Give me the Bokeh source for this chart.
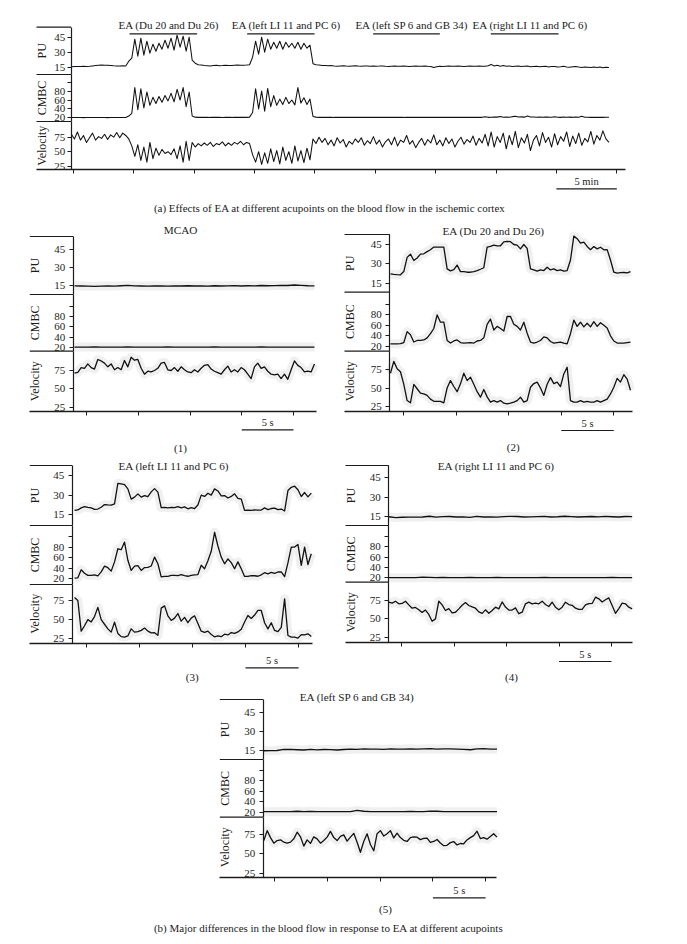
import math
from bokeh.plotting import figure
from bokeh.models import Range1d, LinearAxis, FixedTicker
from bokeh.embed import file_html
from bokeh.resources import INLINE
from bokeh.core.properties import value

# ======================= DATA =======================
# (a) whole experiment, minutes; samples every 0.25 min from -0.15 min
A_T_START, A_DT = -0.15, 0.25
pu_a = [15.5,15.8,15.6,15.7,16.0,15.8,16.0,16.3,16.6,16.9,17.1,16.9,17.0,16.8,16.5,16.3,16.2,16.4,
        16.2,
        21,24,43,26,44,27,41,29,38,31,39,33,42,34,44,32,47,35,46,31,45,
        22,19,17.5,17.2,16.8,
        16.5,16.2,16.6,16.9,16.5,16.7,17.0,16.8,16.6,16.9,17.1,17.0,16.9,17.1,
        17.5,
        25,41,28,45,30,43,33,40,34,41,33,40,35,39,34,40,33,39,34,37,
        18.5,17.5,17.2,16.8,16.6,
        16.4,16.6,16.2,16.0,16.3,16.5,16.1,15.9,16.2,16.4,
        16.1,16.0,16.3,16.1,15.9,16.2,16.0,16.1,16.3,16.0,
        15.8,16.0,16.2,16.0,15.9,16.1,16.0,15.7,16.0,16.1,
        15.9,16.0,16.2,15.9,15.8,14.6,15.5,16.0,15.8,16.0,
        16.1,15.9,16.0,16.2,16.0,15.8,16.0,16.1,15.9,16.0,
        16.2,16.0,15.9,16.5,17.8,16.2,17.0,16.0,16.6,15.9,
        16.3,15.8,16.0,16.2,15.6,15.9,16.1,15.5,15.8,16.0,
        15.4,15.7,15.9,15.3,15.6,15.8,15.2,15.5,15.9,15.3,
        15.0,15.4,15.6,15.1,14.8,15.2,15.0,14.6,15.1,14.8,
        15.2,14.5,15.0,14.7]
cmbc_a = [20.5,20.5,20.6,20.5,20.4,20.5,20.5,20.6,20.5,20.7,20.5,20.5,20.4,20.5,20.6,20.5,20.5,20.5,
          20.5,
          24,30,88,38,85,42,78,48,66,52,68,55,70,58,75,56,84,60,88,45,78,
          24,21.5,21,21.2,21,
          21.2,20.9,21.0,21.3,21.0,20.8,21.1,21.0,20.9,21.2,21.0,20.9,21.1,21.0,
          21.5,
          32,85,40,80,35,86,45,70,48,62,50,66,52,60,49,88,53,65,50,62,
          23,21.5,21,21.2,21,
          21.0,21.2,20.9,21.0,21.1,20.9,21.0,21.2,21.0,20.9,
          21.0,21.1,21.0,20.9,21.0,21.2,21.0,21.0,20.9,21.1,
          21.0,20.9,21.0,21.1,21.0,20.9,21.3,21.0,21.0,20.9,
          21.0,21.1,21.0,20.9,21.0,21.2,21.0,20.9,21.0,21.1,
          21.0,20.9,21.0,21.1,21.0,21.0,20.9,21.1,21.0,21.0,
          21.1,21.0,22.5,21.0,21.3,22.0,21.5,22.8,21.2,21.6,
          21.4,22.6,23.5,21.8,22.1,21.5,23.8,21.6,22.0,21.4,
          21.8,21.3,22.0,21.5,21.2,22.3,21.4,21.0,21.6,21.2,
          21.5,21.0,22.0,21.3,23.5,21.4,21.1,21.0,21.3,21.0,
          21.2,21.0,21.4,21.1]
vel_a = [80,72,84,70,78,66,74,82,70,76,73,80,71,79,75,83,74,82,
         78,
         72,60,42,62,35,58,32,66,38,56,44,54,47,50,45,55,38,60,32,68,35,
         66,58,64,60,65,
         61,66,59,64,62,67,60,65,61,66,63,68,62,66,
         64,
         45,32,50,28,48,30,55,33,52,29,58,35,50,30,60,34,52,31,56,36,
         72,64,75,66,73,
         62,70,60,74,65,71,58,68,63,72,
         66,74,61,69,64,76,63,70,58,67,
         72,62,75,60,70,66,78,63,69,57,
         66,73,61,71,65,79,62,70,60,74,
         64,72,58,68,75,63,71,66,77,61,
         73,65,80,60,84,58,76,66,82,55,
         78,62,85,57,74,65,80,52,70,78,
         60,83,66,75,58,81,62,76,68,84,
         59,77,64,82,61,73,67,85,63,78,
         70,86,72,66]
a_ticks = [0, 5, 10, 15, 20, 25, 30, 35, 40, 45]           # minutes
ea_labels = ["EA (Du 20 and Du 26)", "EA (left LI 11 and PC 6)",
             "EA (left SP 6 and GB 34)", "EA (right LI 11 and PC 6)"]
ea_start = [4.66, 14.40, 24.83, 34.57]                      # minutes
ea_end = [10.26, 19.98, 30.35, 40.18]
a_scale = [40, 45]                                          # 5 min bar

# (b) seconds
b_ticks = [0, 5, 10, 15, 20]
b_scale = [15, 20]                                          # 5 s bar

# (1) MCAO
t1_start, t1_dt = -1.16, 0.322
pu_1 = [14.7,14.6,14.4,14.3,14.5,14.6,14.5,14.8,15.1,14.7,14.6,14.5,14.7,14.6,14.5,14.7,14.6,14.8,14.6,
        14.7,14.5,14.8,14.6,14.7,14.9,14.6,14.8,14.7,15.0,14.8,14.9,15.1,15.0,15.4,15.1,14.8,14.7]
cmbc_1 = [20.3,20.3,20.3,20.4,20.3,20.3,20.3,20.3,20.4,20.3,20.3,20.3,20.3,20.3,20.4,20.3,20.3,20.3,20.3,
          20.3,20.3,20.4,20.3,20.3,20.3,20.3,20.3,20.3,20.4,20.3,20.3,20.3,20.3,20.3,20.3,20.3,20.3]
vel_1 = [71.4,72.5,79,78,84,79,77,90,88,85,
         80,84,76,79,76,88.6,80,93,89,90,
         78,70,74,73,75,78,85,86,76,75,
         79,74,80,76,73,72,76,73,78,82,
         83,77,74,72,70,76,81,73,76,73,
         79,76,70,64,80,85,78,80,74,70,
         69,70,64,70,63,76,88,82,79,73,
         74,73,84]
# (2) EA (Du 20 and Du 26)
t2_start, t2_dt = -1.27, 0.3175
pu_2 = [22.2,21.8,21.6,21.5,24,35,37.5,32.6,34.5,37.5,
        37.8,39.5,40.9,43,42.9,42.9,42.9,26.1,24.6,25.5,
        29,24,24,23.5,23.5,24,24.8,25.8,27,43,
        43.5,44.5,44,44,47,47.5,47.2,45,44.5,41.6,
        45,42,26.1,25.3,24.3,25.3,24.8,27.4,25.3,26.1,
        24.8,25.3,24.3,24.8,33,51.5,49.5,46,46.8,43.5,
        41,43.4,41.6,42.9,40.9,41,33,23.5,22.8,23.2,
        23.3,23,24]
cmbc_2 = [24.5,24.5,24.5,24.8,27,48,42,28,31,31,
          32,36,44,54,80,66,66,31,26,30,
          32,27,26,26.5,27,26,30,31,36,62,
          72,51,58,54,49,77,77,62,58,51,
          66,45,28,26,28,31,38,36,29,26,
          27,28,26,24.5,44,70,58,66,57,64,
          57,67,58,65,60,55,40,30,26,26,
          26,27,28]
vel_2 = [70,86,76,72,55,33,30,55,49,43,
         42,40,35,32,32,32,30,50,60,52,
         45,55.6,70,60,64.6,55,45,37.6,48,38,
         31,33,31,33,29.5,28.6,29.5,31,33,37.6,
         31,33,51,56,58,50,40,55,64,56,
         58,52,69,78,33,31,31,33,31,32,
         31,31,33,31,33,35,42,51,63,58,
         68,62,47]
# (3) EA (left LI 11 and PC 6)
t3_start, t3_dt = -1.10, 0.314
pu_3 = [18.3,18.7,20.3,21.2,20.6,20.3,19.2,19.4,20.8,22.8,
        22.5,22.4,23.4,39,38.6,38,34.8,27,28.5,31,
        28.5,29.7,28.8,32.5,35,32.3,20.5,20.6,20.3,20.7,
        20.4,21.2,20.3,21,19.6,20.5,19.8,22.5,30,29,
        31.5,30,34.8,33.2,29.5,29.7,27.8,29,31,27.5,
        27,18.4,18.6,18.4,18.8,18.5,18.6,20.3,19,19.8,
        20.1,18.9,19.4,17.9,33.5,36,36.8,34.1,29,32,
        28.7,31.5]
cmbc_3 = [21.3,21.9,37,30.5,26.5,26.5,27.5,25.6,33,44,
          41,34.5,52,76.8,75,89.5,55,35.8,43.8,45,
          35.8,41.3,41.8,44.2,61,48.4,23.6,24.4,24.6,26.3,
          26.3,26,27.8,26,24.8,26.6,27.5,28,45.6,39,
          54,72,108,82,61,48.4,57.5,50.5,39,52,
          39,24.4,24.6,25.9,25.8,24.8,27.6,31.5,29.5,32,
          30.2,32.9,33,24.1,50,80,80,85,45.3,80,
          47,67.4]
vel_3 = [79,75,35,42,50,47,54,66,50,44,
         38,33.7,46.7,32,27.8,27.2,28.7,38,33.7,34.3,
         36,39,35,32.7,33,29.6,65,68,55,49,
         52,58,48,53,46,52,55,45,35,33.5,
         35,30.6,27.6,28.9,27.8,31,30,33.2,32,34,
         37.5,47,55.4,51.6,56,62,62,46,38,46,
         35.9,34.3,40,77.2,29.3,27.2,27.2,25.9,30.5,30,
         31.5,28]
# (4) EA (right LI 11 and PC 6)
t4_start, t4_dt = -1.21, 0.3175
pu_4 = [14.8,14.2,14.4,14.5,14.5,14.6,15.2,14.5,14.9,15.0,14.6,14.7,14.4,15.1,14.6,14.7,14.5,14.9,15.1,
        15.0,14.6,14.7,14.9,15.1,14.6,14.8,15.2,14.9,14.6,14.8,15.0,14.7,15.1,14.8,14.6,15.0,14.9]
cmbc_4 = [20.2,20.2,20.3,20.2,20.2,21.2,20.8,20.3,20.9,20.5,20.3,20.3,20.8,20.3,20.2,20.3,20.9,20.3,20.2,
          20.3,20.2,20.3,20.2,20.6,20.3,20.2,20.3,20.2,20.3,20.2,20.3,20.2,20.3,20.8,20.3,20.2,20.3]
vel_4 = [72.7,71.4,74,70.5,71,74,69,64.5,65.5,62.5,
         58.8,62,56,46.8,50,74,69,61.4,64,58,
         59,63.6,68.6,72.2,68.2,66.2,64.5,59.5,57.5,62.3,
         57.7,61.4,65.9,63.6,73,66,62,62,65,57,
         59.1,70.5,72.7,70.5,71.4,70.5,74.1,69.5,66.8,72.7,
         65.9,62.3,65.9,72.7,69.5,68.5,64.5,63,63,69,
         70.8,71,79.5,77.3,73,76,78.5,68.2,57.5,64,
         71.4,70.5,65.9,63.6]
# (5) EA (left SP 6 and GB 34)
t5_start, t5_dt = -1.04, 0.316
pu_5 = [14.8,14.9,15.0,15.8,15.9,15.6,15.4,15.9,15.5,15.8,15.7,15.4,15.8,16.0,15.9,16.2,16.0,16.1,
        15.9,16.2,16.0,16.1,16.3,16.0,16.2,16.4,16.1,16.3,16.2,16.0,15.9,15.6,16.2,16.4,16.1,16.0]
cmbc_5 = [21.0,21.0,21.1,21.2,21.0,21.8,21.1,21.6,21.2,21.0,21.1,21.0,21.1,21.1,23.5,21.8,21.2,21.1,
          21.0,21.1,21.2,21.0,21.6,21.1,21.0,22.0,21.8,21.2,21.0,21.1,21.0,21.1,21.0,21.1,21.0,21.1]
vel_5 = [67.2,80,71,63.8,67.2,68.1,65.1,63.8,65.1,69.4,
         78,72,60,68.1,63.5,72,69.4,63.8,67.2,71.6,
         79,71,67.2,72.6,74.5,66.5,71.6,76.5,65,52,
         66,75.9,62,54,76,80,73,75.9,80,70.5,
         76.7,71,67.5,66,70.9,71.8,71.5,68.4,70,70.3,
         64.8,66,68.5,64,60.5,61,64.5,65.9,61.5,63.4,
         63,68,71,73.5,79.3,69.8,71,69,72.4,76,
         71.6]

strip_labels = ["PU", "CMBC", "Velocity"]
pu_ticks = [15, 30, 45]
cmbc_ticks = [20, 40, 60, 80, 100]
vel_ticks = [25, 50, 75]

panel_titles = ["MCAO", "EA (Du 20 and Du 26)", "EA (left LI 11 and PC 6)",
                "EA (right LI 11 and PC 6)", "EA (left SP 6 and GB 34)"]
panel_tags = ["(1)", "(2)", "(3)", "(4)", "(5)"]
caption_a = "(a)  Effects of EA at different acupoints on the blood flow in the ischemic cortex"
caption_b = "(b)  Major differences in the blood flow in response to EA at different acupoints"

# ======================= LAYOUT (page pixels) =======================
PAGE_W, PAGE_H, MARGIN = 687, 944, 0
W, H = PAGE_W - 2 * MARGIN, PAGE_H - 2 * MARGIN
X0, X1 = MARGIN, MARGIN + W
Y0, Y1 = MARGIN, MARGIN + H
FONT = "Liberation Serif"
INK = "#1c1c1c"
TICK_PX = 11
LABEL_PX = 12

GEOM = {
    "a": dict(left=36, axis=70.7, right=625.3, ys=[26.7, 74, 121, 169.3],
              pu=(45, 36.7, 15, 66.7), cm=(100, 81.7, 20, 117.3), ve=(75, 136.7, 25, 165.7),
              t0=72.7, ppu=12.08, standoff=2),
    "1": dict(left=29.3, axis=72.7, right=316, ys=[236, 294, 350.7, 410.7],
              pu=(45, 249, 15, 285), cm=(100, 306, 20, 346.7), ve=(75, 370, 25, 406.7),
              t0=86, ppu=10.35, standoff=4, title=(180, 229.6), tag=(180, 447.7), bar=(429.3, 422)),
    "2": dict(left=344, axis=389.3, right=631.7, ys=[234, 291.7, 350.7, 410.7],
              pu=(45, 244, 15, 282.7), cm=(100, 304, 20, 345.7), ve=(75, 369, 25, 406),
              t0=403.3, ppu=10.5, standoff=4, title=(493, 230.5), tag=(512.7, 446.7), bar=(430, 422.7)),
    "3": dict(left=29.3, axis=71.7, right=311.7, ys=[465, 525, 584, 642.7],
              pu=(45, 475, 15, 514.3), cm=(100, 536, 20, 578.3), ve=(75, 600, 25, 638.3),
              t0=85.7, ppu=10.62, standoff=4, title=(173.3, 465.5), tag=(191.7, 676), bar=(667.3, 660)),
    "4": dict(left=345, axis=388.3, right=631.7, ys=[465, 525, 581.7, 641.7],
              pu=(45, 477.3, 15, 516), cm=(100, 536, 20, 577.3), ve=(75, 600, 25, 636.7),
              t0=401, ppu=10.5, standoff=4, title=(495.7, 465.8), tag=(511, 676), bar=(661, 654)),
    "5": dict(left=219.3, axis=262.7, right=496, ys=[699, 759, 816.7, 876.7],
              pu=(45, 711.7, 15, 750), cm=(100, 770, 20, 811.7), ve=(75, 834, 25, 872.7),
              t0=274.3, ppu=10.54, standoff=4, title=(356.7, 696), tag=(385, 908), bar=(897.3, 890)),
}

p = figure(width=W, height=H, x_range=Range1d(X0, X1), y_range=Range1d(Y1, Y0),
           x_axis_type=None, y_axis_type=None, toolbar_location=None,
           output_backend="svg", min_border=0, outline_line_color=None, title=None)
p.background_fill_color = "white"
p.border_fill_color = "white"


def txt(x, y, s, size, angle=0.0, xr="default", color=INK):
    p.text(x=[x], y=[y], text=[s], angle=angle, text_font=value(FONT),
           text_font_size=value(f"{size}px"), text_color=color, text_align="center",
           text_baseline="middle", x_range_name=xr)


def value_range(v1, y1, v2, y2):
    k = (y2 - y1) / (v2 - v1)
    return Range1d(start=v1 + (Y1 - y1) / k, end=v1 + (Y0 - y1) / k), k


def panel(name, g, series, t_starts, dts, xticks, halo, lw):
    tname = name + "_t"
    p.extra_x_ranges[tname] = Range1d((X0 - g["t0"]) / g["ppu"], (X1 - g["t0"]) / g["ppu"])
    ys = g["ys"]
    keys = ["pu", "cm", "ve"]
    tick_sets = [pu_ticks, cmbc_ticks, vel_ticks]
    for j in range(3):
        v1, y1, v2, y2 = g[keys[j]]
        rng, k = value_range(v1, y1, v2, y2)
        rn = name + "_" + keys[j]
        p.extra_y_ranges[rn] = rng
        vb_top = v1 + (ys[j] - y1) / k
        vb_bot = v1 + (ys[j + 1] - y1) / k
        ax = LinearAxis(y_range_name=rn, fixed_location=g["axis"], bounds=(vb_bot, vb_top),
                        ticker=FixedTicker(ticks=tick_sets[j]))
        ax.major_label_overrides = {100: ""}
        ax.axis_line_color = INK
        ax.axis_line_width = 1.2
        ax.major_tick_line_color = INK
        ax.major_tick_in = 0
        ax.major_tick_out = 4
        ax.minor_tick_line_color = None
        ax.major_label_standoff = g["standoff"]
        ax.major_label_text_font = FONT
        ax.major_label_text_font_size = f"{TICK_PX}px"
        ax.major_label_text_color = INK
        p.add_layout(ax, "left")
        # separator left of the axis and rotated strip label
        p.segment(x0=[g["left"]], x1=[g["axis"]], y0=[ys[j]], y1=[ys[j]], line_color=INK, line_width=1.2)
        txt(g["left"] + 5.5, (ys[j] + ys[j + 1]) / 2, strip_labels[j], LABEL_PX, angle=math.pi / 2)
        vals = series[j]
        ts = [t_starts[j] + i * dts[j] for i in range(len(vals))]
        if halo:
            p.line(x=ts, y=vals, x_range_name=tname, y_range_name=rn, line_color="#e2e2e2",
                   line_width=9, line_alpha=0.5, line_join="round")
        p.line(x=ts, y=vals, x_range_name=tname, y_range_name=rn, line_color="#111111",
               line_width=lw, line_join="round")
    xa = LinearAxis(x_range_name=tname, fixed_location=ys[3],
                    bounds=((g["left"] - g["t0"]) / g["ppu"], (g["right"] - g["t0"]) / g["ppu"]),
                    ticker=FixedTicker(ticks=xticks))
    xa.major_label_overrides = {t: "" for t in xticks}
    xa.axis_line_color = INK
    xa.axis_line_width = 1.3
    xa.major_tick_line_color = INK
    xa.major_tick_in = 0
    xa.major_tick_out = 4
    xa.minor_tick_line_color = None
    p.add_layout(xa, "below")
    return tname


# ---------- (a) ----------
ga = GEOM["a"]
ta = panel("a", ga, [pu_a, cmbc_a, vel_a], [A_T_START] * 3, [A_DT] * 3, a_ticks, False, 1.05)
pu_bar_level = 48.4
p.segment(x0=ea_start, x1=ea_end, y0=[pu_bar_level] * 4, y1=[pu_bar_level] * 4,
          x_range_name=ta, y_range_name="a_pu", line_color=INK, line_width=1.3)
for s, e, lab in zip(ea_start, ea_end, ea_labels):
    txt((s + e) / 2 + 0.45, 24, lab, 11, xr=ta)
p.segment(x0=[a_scale[0]], x1=[a_scale[1]], y0=[188.3], y1=[188.3], x_range_name=ta,
          line_color=INK, line_width=1.2)
txt((a_scale[0] + a_scale[1]) / 2, 181, "5 min", 10.5, xr=ta)
txt(330.5, 207.3, caption_a, 11)

# ---------- (b) ----------
b_series = [
    ([pu_1, cmbc_1, vel_1], t1_start, t1_dt),
    ([pu_2, cmbc_2, vel_2], t2_start, t2_dt),
    ([pu_3, cmbc_3, vel_3], t3_start, t3_dt),
    ([pu_4, cmbc_4, vel_4], t4_start, t4_dt),
    ([pu_5, cmbc_5, vel_5], t5_start, t5_dt),
]
for idx, (ser, t_st, dt) in enumerate(b_series):
    key = str(idx + 1)
    g = GEOM[key]
    dts = [dt * (len(ser[2]) - 1) / (len(ser[0]) - 1) if len(ser[0]) < len(ser[2]) else dt,
           dt * (len(ser[2]) - 1) / (len(ser[1]) - 1) if len(ser[1]) < len(ser[2]) else dt,
           dt]
    tn = panel("p" + key, g, ser, [t_st] * 3, dts, b_ticks, True, 1.3)
    txt(g["title"][0], g["title"][1], panel_titles[idx], 11.2)
    txt(g["tag"][0], g["tag"][1], panel_tags[idx], 11)
    by, ty = g["bar"]
    p.segment(x0=[b_scale[0]], x1=[b_scale[1]], y0=[by], y1=[by], x_range_name=tn,
              line_color=INK, line_width=1.2)
    txt((b_scale[0] + b_scale[1]) / 2, ty, "5 s", 10.5, xr=tn)

txt(329.5, 927.7, caption_b, 11)

open("out.html", "w").write(file_html(p, INLINE))
